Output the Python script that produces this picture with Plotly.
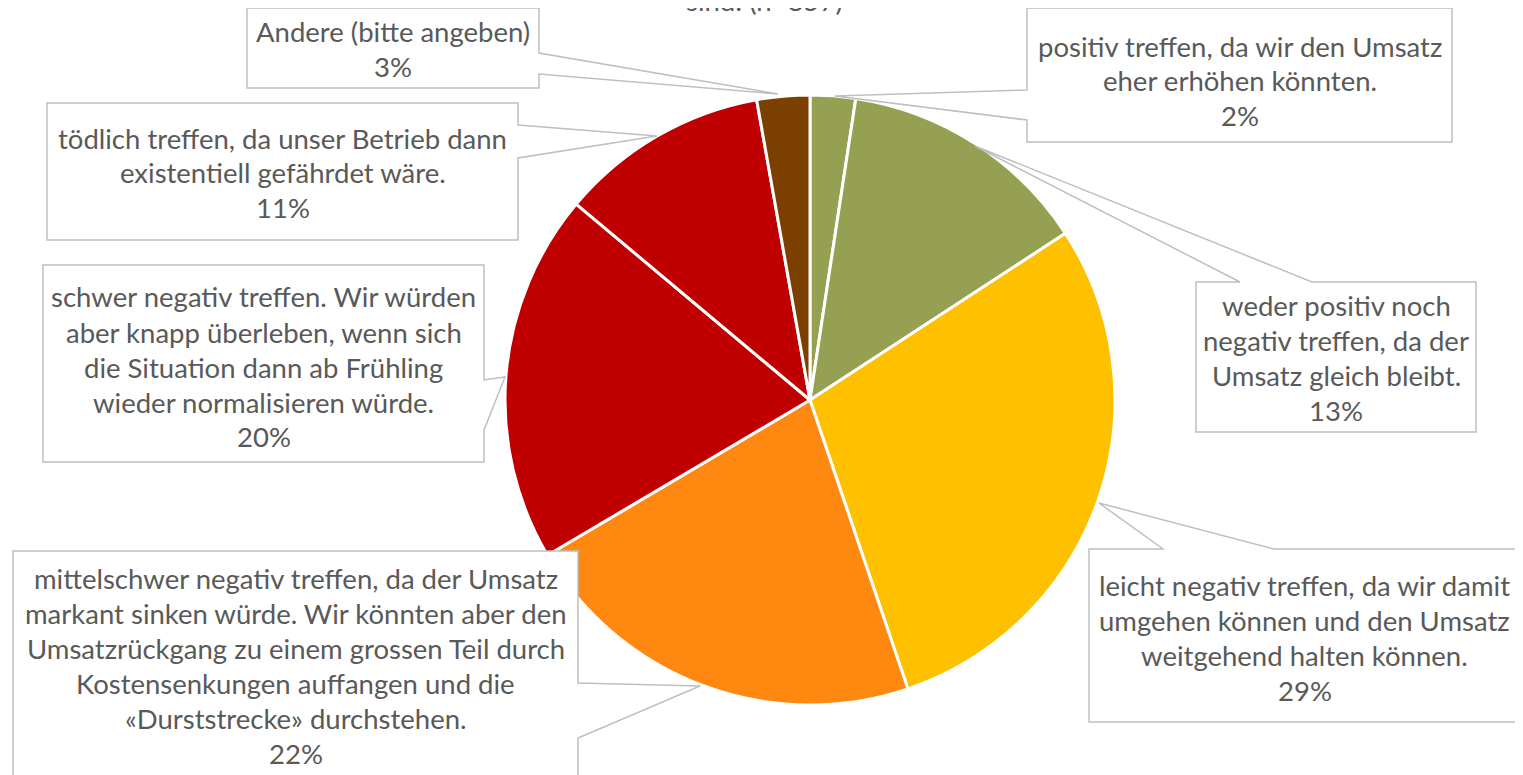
import plotly.graph_objects as go

W, H = 1523, 775
OFF = 8  # Seitenrand des Browsers
FW, FH = W - OFF, H - OFF

# Antwortkategorien im Uhrzeigersinn ab 12 Uhr
labels = [
    "positiv treffen, da wir den Umsatz<br>eher erhöhen könnten.",
    "weder positiv noch<br>negativ treffen, da der<br>Umsatz gleich bleibt.",
    "leicht negativ treffen, da wir damit<br>umgehen können und den Umsatz<br>weitgehend halten können.",
    "mittelschwer negativ treffen, da der Umsatz<br>markant sinken würde. Wir könnten aber den<br>Umsatzrückgang zu einem grossen Teil durch<br>Kostensenkungen auffangen und die<br>«Durststrecke» durchstehen.",
    "schwer negativ treffen. Wir würden<br>aber knapp überleben, wenn sich<br>die Situation dann ab Frühling<br>wieder normalisieren würde.",
    "tödlich treffen, da unser Betrieb dann<br>existentiell gefährdet wäre.",
    "Andere (bitte angeben)",
]
values = [2.4, 13.4, 29.0, 21.7, 19.6, 11.1, 2.8]
colors = ["#95A052", "#95A052", "#FFC000", "#FF8811", "#C00000", "#C00000", "#7B3F00"]

# Callout-Geometrie in Pixeln: Box (x0, y0, x1, y1), Kante, Basis des Keils, Spitze
callouts = [
    ((1027, 8, 1452, 142), "left", (90, 120), (835, 96)),
    ((1196, 282, 1476, 432), "top", (1240, 1312), (975, 146)),
    ((1089, 549, 1520, 722), "top", (1163, 1274), (1099, 503)),
    ((13, 551, 578, 800), "right", (683, 738), (700, 686)),
    ((43, 265, 484, 462), "right", (380, 430), (505, 377)),
    ((47, 103, 518, 240), "right", (125, 158), (657, 136)),
    ((247, 8, 539, 88), "right", (53, 74), (778, 94)),
]
text_center_y = [81, 358, 638, 666, 367, 173, 49]

LINE_H = 35
FONT = "Lato"
FONT_SIZE = 27.5
TEXT_COL = "#595959"
EDGE_COL = "#BFBFBF"


def px(x):
    return (x - OFF) / FW


def py(y):
    return 1 - (y - OFF) / FH


def callout_path(box, side, base, tip):
    x0, y0, x1, y1 = box
    b0, b1 = base
    tx, ty = tip
    if side == "right":
        pts = [(x0, y0), (x1, y0), (x1, b0), (tx, ty), (x1, b1), (x1, y1), (x0, y1)]
    elif side == "left":
        pts = [(x0, y0), (x1, y0), (x1, y1), (x0, y1), (x0, b1), (tx, ty), (x0, b0)]
    else:  # top
        pts = [(x0, y0), (b0, y0), (tx, ty), (b1, y0), (x1, y0), (x1, y1), (x0, y1)]
    return "M " + " L ".join(f"{px(a):.5f},{py(b):.5f}" for a, b in pts) + " Z"


fig = go.Figure()

fig.add_trace(go.Pie(
    labels=labels,
    values=values,
    sort=False,
    direction="clockwise",
    rotation=0,
    marker=dict(colors=colors, line=dict(color="white", width=3)),
    textinfo="none",
    hoverinfo="label+percent",
    showlegend=False,
    domain=dict(x=[px(505), px(1115)], y=[py(705), py(95)]),
))

shapes = []
annotations = []
for lab, val, (box, side, base, tip), cy in zip(labels, values, callouts, text_center_y):
    shapes.append(dict(
        type="path", xref="paper", yref="paper",
        path=callout_path(box, side, base, tip),
        fillcolor="white", line=dict(color=EDGE_COL, width=1.5), layer="above",
    ))
    lines = lab.split("<br>") + [f"{round(val):.0f}%"]
    cx = (box[0] + box[2]) / 2
    top = cy - LINE_H * (len(lines) - 1) / 2
    for i, ln in enumerate(lines):
        annotations.append(dict(
            x=px(cx), y=py(top + i * LINE_H), xref="paper", yref="paper",
            text=ln, showarrow=False, xanchor="center", yanchor="middle",
            font=dict(family=FONT, size=FONT_SIZE, color=TEXT_COL),
        ))

# abgeschnittener Titel am oberen Rand
annotations.append(dict(
    x=px(764), y=py(19), xref="paper", yref="paper",
    text="sind: (n=857)", showarrow=False, xanchor="center", yanchor="bottom",
    font=dict(family=FONT, size=FONT_SIZE, color=TEXT_COL),
))

fig.update_layout(
    width=FW, height=FH,
    margin=dict(l=0, r=0, t=0, b=0),
    paper_bgcolor="white",
    plot_bgcolor="white",
    shapes=shapes,
    annotations=annotations,
)

fig.write_html("out.html")
